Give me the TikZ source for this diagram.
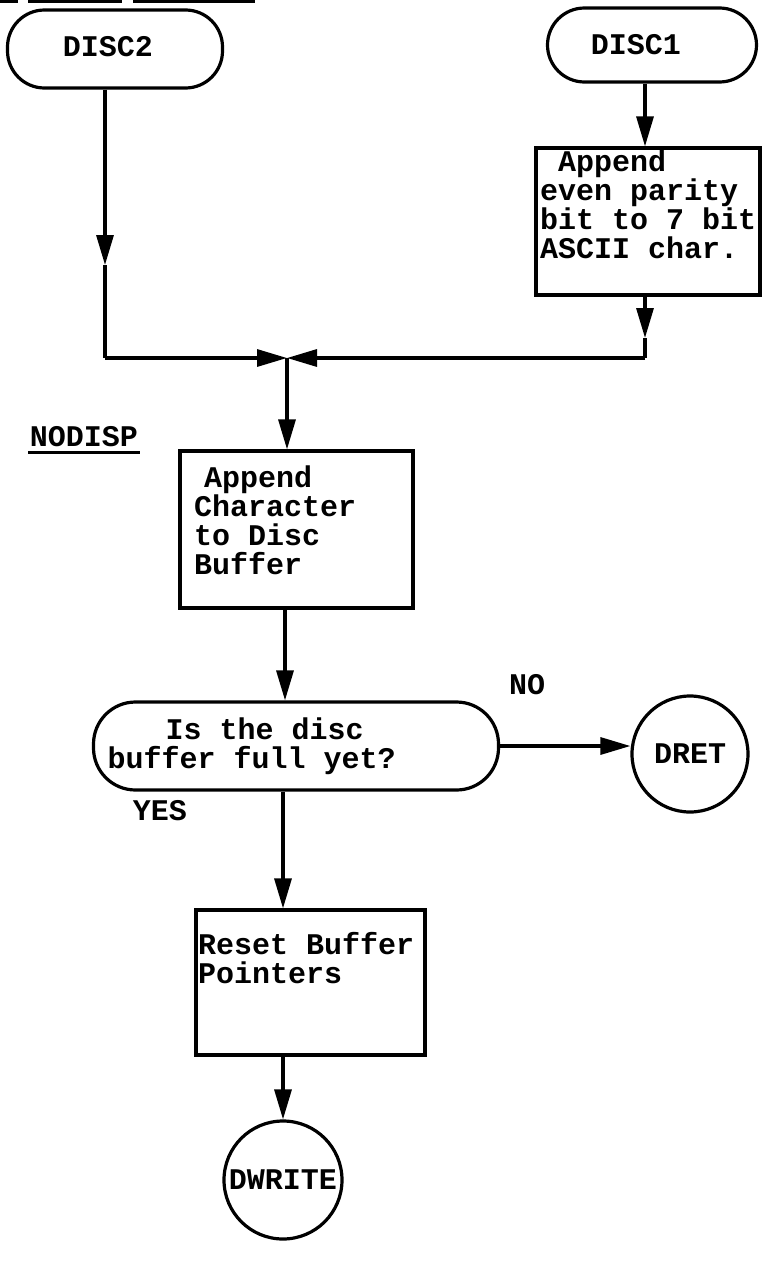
\documentclass[tikz,border=0pt]{standalone}
\usepackage{fontspec}
\setmonofont{Liberation Mono}
\usetikzlibrary{arrows.meta,calc}
\begin{document}
\begin{tikzpicture}[x=1pt,y=-1pt,
  line width=3.2pt,
  txt/.style={font=\ttfamily\bfseries\fontsize{30}{29}\selectfont, inner sep=0pt},
  term/.style={draw, rounded corners=37pt, txt},
  box/.style={draw},
  circ/.style={draw, circle, txt},
  arr/.style={-{Triangle[length=30pt,width=17pt]}},
  lbl/.style={txt}]
\fill[white] (0,0) rectangle (768,1261);
\useasboundingbox (0,0) rectangle (768,1261);
% cut-off underlines at the top edge
\draw (0,1.5) -- (18,1.5);
\draw (28,1.5) -- (122,1.5);
\draw (133,1.5) -- (255,1.5);
% terminals
\node[term, minimum width=215pt, minimum height=78pt] (disc2) at (115,49) {};
\node[txt] (disc2t) at (108,47) {DISC2};
\node[term, minimum width=209pt, minimum height=74pt] (disc1) at (652,45) {};
\node[txt] (disc1t) at (636,45) {DISC1};
% box 1
\node[box, minimum width=224pt, minimum height=147pt] (b1) at (648,221.5) {};
\node[txt, anchor=north west, align=left] (b1t) at ($(b1.north west)+(4,2)$)
  {\hspace{18pt}Append\\even parity\\bit to 7 bit\\ASCII char.};
% junction coordinates
\coordinate (c2) at (105,358);
\coordinate (c1) at (645,358);
\coordinate (j) at (287,358);
\coordinate (a2) at (105,265);
\coordinate (a1) at (645,338);
% NODISP label
\node[lbl] (nodisp) at (84,437) {NODISP};
\draw ([yshift=-6pt]nodisp.base west) -- ([yshift=-6pt]nodisp.base east);
% box 2
\node[box, minimum width=233pt, minimum height=157pt] (b2) at (296.5,529.5) {};
\node[txt, anchor=north west, align=left] (b2t) at ($(b2.north west)+(14,15)$)
  {\hspace{10pt}Append\\Character\\to Disc\\Buffer};
% decision
\node[term, minimum width=405pt, minimum height=88pt, rounded corners=42pt] (dec) at (296,746) {};
\node[txt, anchor=west, align=left] (dect) at (106,746)
  {\hspace{58pt}Is the disc\\buffer full yet?};
\node[lbl] (no) at (527,685) {NO};
\node[lbl] (yes) at (160,811) {YES};
% DRET
\node[circ, minimum size=116pt] (dret) at (690,754) {DRET};
% box 3
\node[box, minimum width=229pt, minimum height=145pt] (b3) at (310.5,982.5) {};
\node[txt, anchor=north west, align=left] (b3t) at ($(b3.north west)+(2,22)$)
  {Reset Buffer\\Pointers};
% DWRITE
\node[circ, minimum size=118pt] (dw) at (283,1180) {DWRITE};
% connectors
\draw[arr] (disc2.south -| c2) -- (a2);
\draw (a2) -- (c2);
\draw[arr] (disc1.south -| c1) -- (b1.north -| c1);
\draw[arr] (b1.south -| c1) -- (a1);
\draw (a1) -- (c1);
\draw[arr] (c2) -- (j);
\draw[arr] (c1) -- (j);
\draw[arr] (j) -- (b2.north -| j);
\coordinate (d) at (285,0);
\draw[arr] (b2.south -| d) -- (dec.north -| d);
\draw[arr] (dec.east) -- (dec.east -| dret.west);
\coordinate (e) at (283,0);
\draw[arr] (dec.south -| e) -- (b3.north -| e);
\draw[arr] (b3.south -| e) -- (dw.north);
\end{tikzpicture}
\end{document}
